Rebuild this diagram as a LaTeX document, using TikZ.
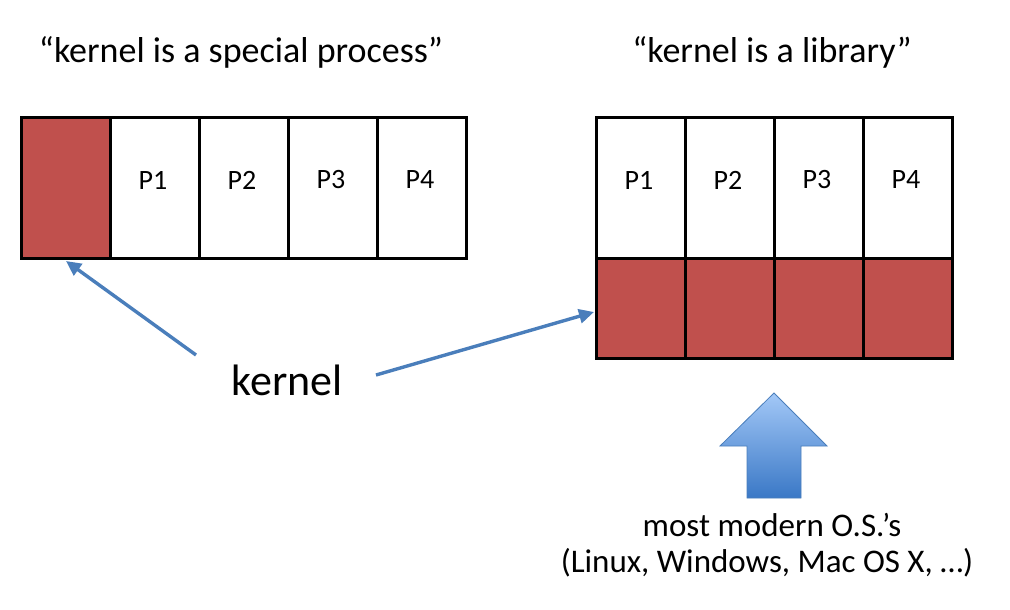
\documentclass[tikz,border=0pt]{standalone}
\usepackage{fontspec}
\setmainfont{Carlito}
\usetikzlibrary{arrows.meta}
\definecolor{kred}{HTML}{C0504D}
\definecolor{kblue}{HTML}{4A7EBB}
\definecolor{blight}{HTML}{A3C8F7}
\definecolor{bdark}{HTML}{3A78C6}
\tikzset{
  cell/.style={draw=black, line width=3pt, minimum width=89pt, minimum height=141pt, inner sep=0pt, anchor=north west},
  half/.style={cell, minimum height=141pt},
  kcell/.style={cell, fill=kred, minimum height=100pt},
  ptext/.style={font=\fontsize{28}{30}\selectfont},
  title/.style={font=\fontsize{36}{40}\selectfont},
  ostext/.style={font=\fontsize{33}{36}\selectfont},
  conn/.style={draw=kblue, line width=3.4pt, -{Triangle[length=15pt,width=14pt]}},
}
\begin{document}
\begin{tikzpicture}[x=1pt,y=-1pt]
\useasboundingbox (0,0) rectangle (1010,610);
% titles
\node[title] (t1) at (241,52) {“kernel is a special process”};
\node[title] (t2) at (772,52) {“kernel is a library”};
% left row
\node[cell, fill=kred] (k0) at (20,116) {};
\node[cell] (l1) at (109,116) {};
\node[cell] (l2) at (198,116) {};
\node[cell] (l3) at (287,116) {};
\node[cell] (l4) at (376,116) {};
\node[ptext] at (153,180) {P1};
\node[ptext] at (242,180) {P2};
\node[ptext] at (331,180) {P3};
\node[ptext] at (420,180) {P4};
% right
\node[half] (r1) at (595,116) {};
\node[half] (r2) at (684,116) {};
\node[half] (r3) at (773,116) {};
\node[half] (r4) at (862,116) {};
\node[ptext] at (639,180) {P1};
\node[ptext] at (728,180) {P2};
\node[ptext] at (817,180) {P3};
\node[ptext] at (906,180) {P4};
\node[kcell] (rk1) at (595,257) {};
\node[kcell] (rk2) at (684,257) {};
\node[kcell] (rk3) at (773,257) {};
\node[kcell] (rk4) at (862,257) {};
% kernel label
\node[font=\fontsize{44}{48}\selectfont] (kern) at (287,380) {kernel};
\coordinate (a1s) at (196,355);
\coordinate (a1e) at (66,261);
\coordinate (a2s) at (376,375);
\coordinate (a2e) at (594,312);
\draw[conn] (a1s) -- (a1e);
\draw[conn] (a2s) -- (a2e);
% block arrow
\shade[top color=blight, bottom color=bdark] (774,393) -- (827,446) -- (801,446) -- (801,498) -- (747,498) -- (747,446) -- (720,446) -- cycle;
\draw[kblue, line width=0.8pt, line join=miter] (774,393) -- (827,446) -- (801,446) -- (801,498) -- (747,498) -- (747,446) -- (720,446) -- cycle;
\node[ostext] (os1) at (772,525) {most modern O.S.’s};
\node[ostext] (os2) at (767,563) {(Linux, Windows, Mac OS X, …)};
\end{tikzpicture}
\end{document}
